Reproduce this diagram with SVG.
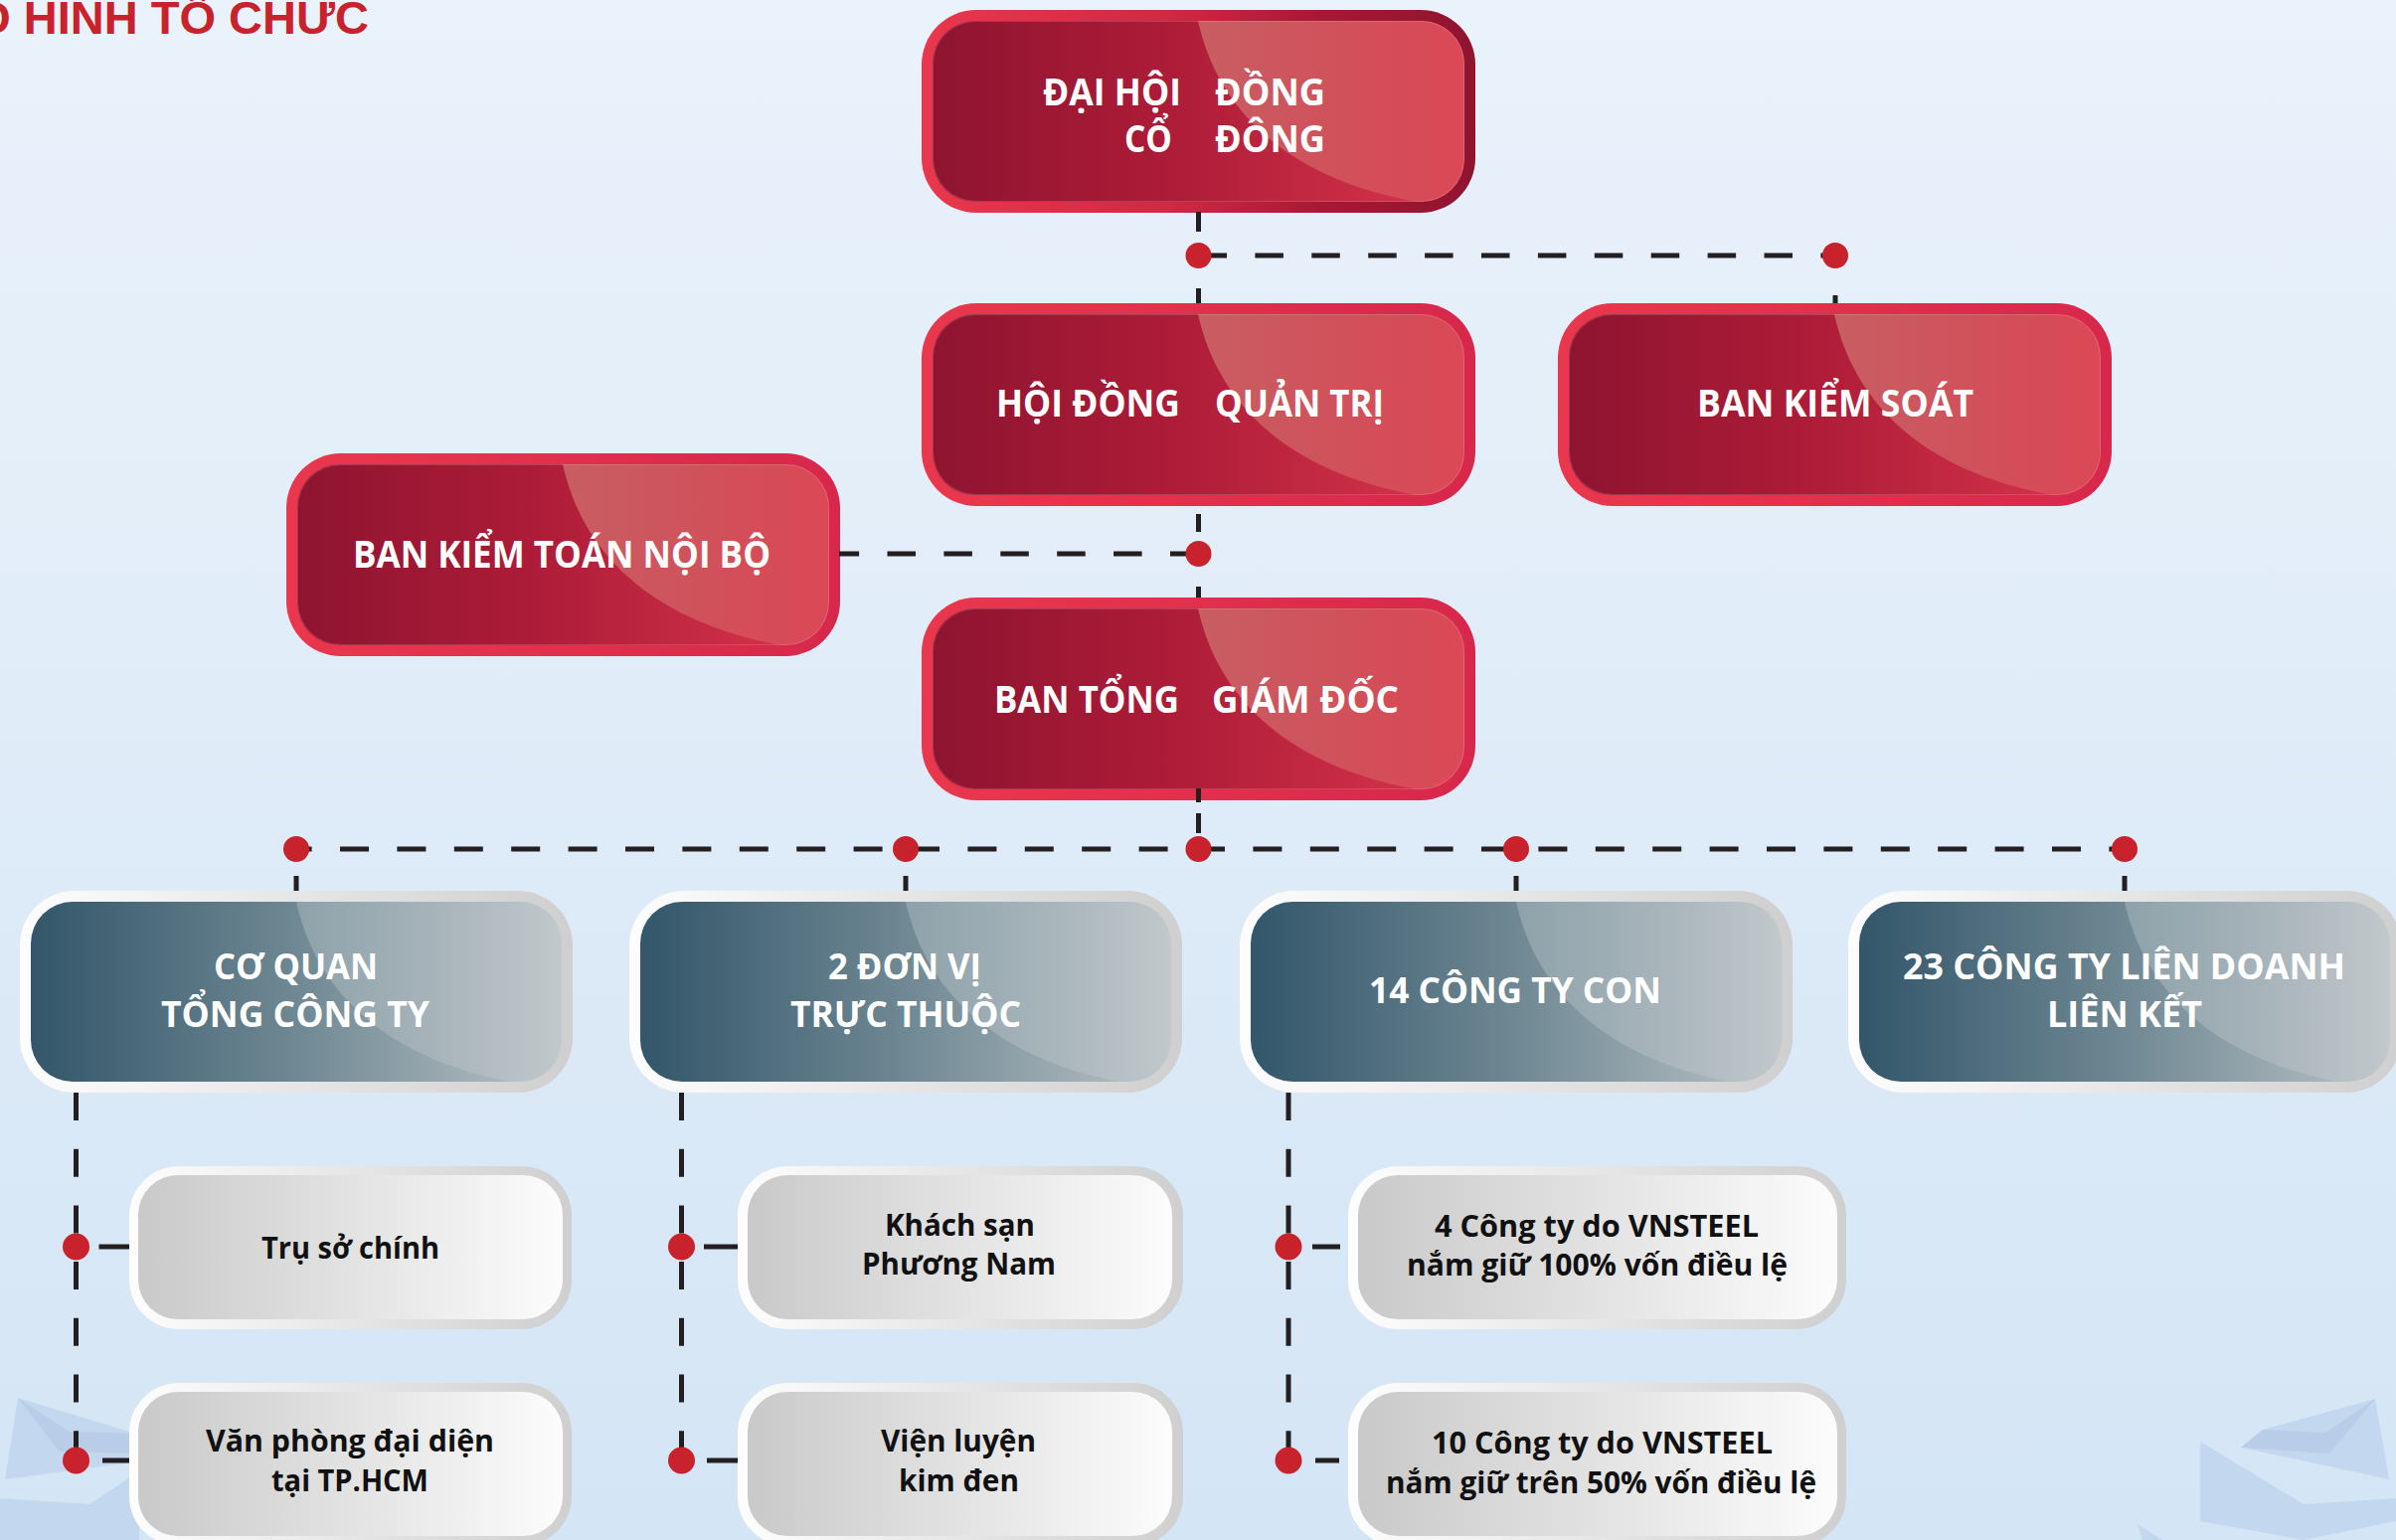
<svg xmlns="http://www.w3.org/2000/svg" xmlns:xlink="http://www.w3.org/1999/xlink" width="2410" height="1549" viewBox="0 0 2410 1549">
<defs>
<style>
.tw{font-family:"Open Sans","Liberation Sans",sans-serif;font-weight:700;fill:#ffffff;}
.tr{font-size:37px;}
.tt{font-size:35px;}
.tg{font-family:"Open Sans","Liberation Sans",sans-serif;font-weight:700;font-size:31px;fill:#111111;}
.con{stroke:#231f20;stroke-width:5;fill:none;}
.dash{stroke-dasharray:28.5 28.4;}
.dot{fill:#c8232c;}
.redFrame{fill:url(#redFrame);}
.silverFrame{fill:url(#silverFrame);}
.greyInner{fill:url(#greyInner);}
.deco{fill:#c3d8ee;}
.deco2{fill:#b9cde8;}
</style>
<linearGradient id="bg" x1="0" y1="0" x2="0" y2="1"><stop offset="0" stop-color="#eaf2fb"/><stop offset="1" stop-color="#d4e5f5"/></linearGradient>
<linearGradient id="redFrame" x1="0" y1="0" x2="1" y2="0"><stop offset="0" stop-color="#e9384d"/><stop offset="1" stop-color="#d7284c"/></linearGradient>
<linearGradient id="redFrameTop" x1="0" y1="0" x2="1" y2="0"><stop offset="0" stop-color="#e9384d"/><stop offset="0.45" stop-color="#cf2944"/><stop offset="0.72" stop-color="#a81834"/><stop offset="1" stop-color="#8f1430"/></linearGradient>
<linearGradient id="redInner" x1="0" y1="0" x2="1" y2="0"><stop offset="0" stop-color="#8e1430"/><stop offset="0.45" stop-color="#ad1c38"/><stop offset="1" stop-color="#d9364b"/></linearGradient>
<linearGradient id="redGloss" x1="0" y1="0" x2="1" y2="0"><stop offset="0" stop-color="#f4d6ae" stop-opacity="0.35"/><stop offset="1" stop-color="#f4d6ae" stop-opacity="0.1"/></linearGradient>
<linearGradient id="tealInner" x1="0" y1="0" x2="1" y2="0"><stop offset="0" stop-color="#33566a"/><stop offset="0.5" stop-color="#6f8893"/><stop offset="1" stop-color="#bcc3c7"/></linearGradient>
<linearGradient id="tealGloss" x1="0" y1="0" x2="1" y2="0"><stop offset="0" stop-color="#ffffff" stop-opacity="0.22"/><stop offset="1" stop-color="#ffffff" stop-opacity="0.08"/></linearGradient>
<linearGradient id="silverFrame" x1="0" y1="0" x2="1" y2="0"><stop offset="0" stop-color="#fdfdfd"/><stop offset="1" stop-color="#cfcfcf"/></linearGradient>
<linearGradient id="greyInner" x1="0" y1="0" x2="1" y2="0"><stop offset="0" stop-color="#c9c9c9"/><stop offset="1" stop-color="#fcfcfc"/></linearGradient>
<clipPath id="redClip"><rect x="11" y="11" width="535" height="182" rx="43"/></clipPath>
<clipPath id="tealClip"><rect x="11" y="11" width="534" height="181" rx="42"/></clipPath>
<g id="redCore">
<rect x="11" y="11" width="535" height="182" rx="43" fill="url(#redInner)"/>
<path d="M278,11 C300,110 380,175 510,195 L560,195 L560,0 L278,0 Z" fill="url(#redGloss)" clip-path="url(#redClip)"/>
<rect x="11.5" y="11.5" width="534" height="181" rx="43" fill="none" stroke="#ffffff" stroke-opacity="0.15" stroke-width="1"/>
</g>
<g id="tealBox">
<rect x="0" y="0" width="556" height="203" rx="55" class="silverFrame"/>
<rect x="11" y="11" width="534" height="181" rx="42" fill="url(#tealInner)"/>
<path d="M278,11 C300,110 380,175 510,195 L560,195 L560,0 L278,0 Z" fill="url(#tealGloss)" clip-path="url(#tealClip)"/>
</g>
</defs>

<rect x="0" y="0" width="2410" height="1549" fill="url(#bg)"/>

<g id="decor">
<polygon class="deco" points="18,1406 130,1440 140,1470 5,1488"/>
<polygon class="deco2" points="18,1406 70,1440 140,1442 140,1462 60,1460"/>
<polygon class="deco" points="0,1507 90,1513 140,1480 140,1549 0,1549"/>
<polygon class="deco" points="2276,1438 2389,1407 2403,1488 2254,1456"/>
<polygon class="deco2" points="2276,1438 2339,1441 2389,1407 2343,1462 2254,1456"/>
<polygon class="deco" points="2213,1450 2317,1513 2410,1507 2410,1530 2317,1549 2213,1530"/>
<polygon class="deco" points="2150,1533 2175,1549 2155,1549"/>
</g>

<g id="title">
<text x="-65" y="34" font-family="'Liberation Sans',Arial,sans-serif" font-weight="700" font-size="47" fill="#c8232c">MÔ HÌNH TỔ CHỨC</text>
</g>

<g id="n-dhdcd">
<rect x="927" y="10" width="557" height="204" rx="55" fill="url(#redFrameTop)"/>
<use xlink:href="#redCore" href="#redCore" x="927" y="10"/>
<text class="tw tr" x="1049" y="106" textLength="139" lengthAdjust="spacingAndGlyphs">ĐẠI HỘI</text>
<text class="tw tr" x="1222" y="106" textLength="111" lengthAdjust="spacingAndGlyphs">ĐỒNG</text>
<text class="tw tr" x="1131" y="153" textLength="48" lengthAdjust="spacingAndGlyphs">CỔ</text>
<text class="tw tr" x="1222" y="153" textLength="111" lengthAdjust="spacingAndGlyphs">ĐÔNG</text>
</g>

<g id="n-hdqt">
<rect x="927" y="305" width="557" height="204" rx="55" class="redFrame"/>
<use xlink:href="#redCore" href="#redCore" x="927" y="305"/>
<text class="tw tr" x="1002" y="419" textLength="185" lengthAdjust="spacingAndGlyphs">HỘI ĐỒNG</text>
<text class="tw tr" x="1222" y="419" textLength="170" lengthAdjust="spacingAndGlyphs">QUẢN TRỊ</text>
</g>

<g id="n-bks">
<rect x="1567" y="305" width="557" height="204" rx="55" class="redFrame"/>
<use xlink:href="#redCore" href="#redCore" x="1567" y="305"/>
<text class="tw tr" x="1707" y="419" textLength="278" lengthAdjust="spacingAndGlyphs">BAN KIỂM SOÁT</text>
</g>

<g id="n-bktnb">
<rect x="288" y="456" width="557" height="204" rx="55" class="redFrame"/>
<use xlink:href="#redCore" href="#redCore" x="288" y="456"/>
<text class="tw tr" x="355" y="571" textLength="420" lengthAdjust="spacingAndGlyphs">BAN KIỂM TOÁN NỘI BỘ</text>
</g>

<g id="n-btgd">
<rect x="927" y="601" width="557" height="204" rx="55" class="redFrame"/>
<use xlink:href="#redCore" href="#redCore" x="927" y="601"/>
<text class="tw tr" x="1000" y="717" textLength="186" lengthAdjust="spacingAndGlyphs">BAN TỔNG</text>
<text class="tw tr" x="1219" y="717" textLength="188" lengthAdjust="spacingAndGlyphs">GIÁM ĐỐC</text>
</g>

<g id="n-cqtct">
<use xlink:href="#tealBox" href="#tealBox" x="20" y="896"/>
<text class="tw tt" x="215" y="985" textLength="165" lengthAdjust="spacingAndGlyphs">CƠ QUAN</text>
<text class="tw tt" x="162" y="1033" textLength="270" lengthAdjust="spacingAndGlyphs">TỔNG CÔNG TY</text>
</g>

<g id="n-dvtt">
<use xlink:href="#tealBox" href="#tealBox" x="633" y="896"/>
<text class="tw tt" x="833" y="985" textLength="154" lengthAdjust="spacingAndGlyphs">2 ĐƠN VỊ</text>
<text class="tw tt" x="795" y="1033" textLength="232" lengthAdjust="spacingAndGlyphs">TRỰC THUỘC</text>
</g>

<g id="n-ctcon">
<use xlink:href="#tealBox" href="#tealBox" x="1247" y="896"/>
<text class="tw tt" x="1377" y="1009" textLength="294" lengthAdjust="spacingAndGlyphs">14 CÔNG TY CON</text>
</g>

<g id="n-ldlk">
<use xlink:href="#tealBox" href="#tealBox" x="1859" y="896"/>
<text class="tw tt" x="1914" y="985" textLength="445" lengthAdjust="spacingAndGlyphs">23 CÔNG TY LIÊN DOANH</text>
<text class="tw tt" x="2059" y="1033" textLength="156" lengthAdjust="spacingAndGlyphs">LIÊN KẾT</text>
</g>

<g id="n-trusochinh">
<rect x="130" y="1173" width="445" height="164" rx="50" class="silverFrame"/>
<rect x="139" y="1182" width="427" height="145" rx="40" class="greyInner"/>
<text class="tg" x="263" y="1266" textLength="179" lengthAdjust="spacingAndGlyphs">Trụ sở chính</text>
</g>

<g id="n-vanphong">
<rect x="130" y="1391" width="445" height="164" rx="50" class="silverFrame"/>
<rect x="139" y="1400" width="427" height="145" rx="40" class="greyInner"/>
<text class="tg" x="207" y="1460" textLength="290" lengthAdjust="spacingAndGlyphs">Văn phòng đại diện</text>
<text class="tg" x="273" y="1500" textLength="158" lengthAdjust="spacingAndGlyphs">tại TP.HCM</text>
</g>

<g id="n-khachsan">
<rect x="742" y="1173" width="448" height="164" rx="50" class="silverFrame"/>
<rect x="752" y="1182" width="427" height="145" rx="40" class="greyInner"/>
<text class="tg" x="890" y="1243" textLength="151" lengthAdjust="spacingAndGlyphs">Khách sạn</text>
<text class="tg" x="867" y="1282" textLength="195" lengthAdjust="spacingAndGlyphs">Phương Nam</text>
</g>

<g id="n-vienluyen">
<rect x="742" y="1391" width="448" height="164" rx="50" class="silverFrame"/>
<rect x="752" y="1400" width="427" height="145" rx="40" class="greyInner"/>
<text class="tg" x="886" y="1460" textLength="156" lengthAdjust="spacingAndGlyphs">Viện luyện</text>
<text class="tg" x="904" y="1500" textLength="121" lengthAdjust="spacingAndGlyphs">kim đen</text>
</g>

<g id="n-4cty">
<rect x="1356" y="1173" width="501" height="164" rx="50" class="silverFrame"/>
<rect x="1366" y="1182" width="482" height="145" rx="40" class="greyInner"/>
<text class="tg" x="1443" y="1244" textLength="326" lengthAdjust="spacingAndGlyphs">4 Công ty do VNSTEEL</text>
<text class="tg" x="1415" y="1283" textLength="383" lengthAdjust="spacingAndGlyphs">nắm giữ 100% vốn điều lệ</text>
</g>

<g id="n-10cty">
<rect x="1356" y="1391" width="501" height="164" rx="50" class="silverFrame"/>
<rect x="1366" y="1400" width="482" height="145" rx="40" class="greyInner"/>
<text class="tg" x="1440" y="1462" textLength="343" lengthAdjust="spacingAndGlyphs">10 Công ty do VNSTEEL</text>
<text class="tg" x="1394" y="1502" textLength="433" lengthAdjust="spacingAndGlyphs">nắm giữ trên 50% vốn điều lệ</text>
</g>

<g id="connectors">
<path class="con" d="M1205.5,213 V233"/>
<path class="con" d="M1205.5,290 V305"/>
<path class="con dash" d="M1205.5,257 H1846"/>
<path class="con" d="M1846,297 V305"/>
<path class="con" d="M1205.5,517 V535"/>
<path class="con" d="M1205.5,590 V601"/>
<path class="con dash" d="M1205.5,557 H844"/>
<path class="con" d="M1205.5,793 V807"/>
<path class="con" d="M1205.5,818 V838"/>
<path class="con" d="M298,854 H2137" style="stroke-dasharray:29 28.4;stroke-dashoffset:13.4"/>
<path class="con" d="M298,881 V896 M911,881 V896 M1525,881 V896 M2137,881 V896"/>
<path class="con" d="M76.5,1099 V1469 M685.5,1099 V1469 M1296,1099 V1469" style="stroke-dasharray:28 28.7"/>
<path class="con" d="M99.5,1254 H130 M103,1469 H130 M708,1254 H742 M711,1469 H742 M1320,1254 H1348 M1323,1469 H1347"/>
<circle class="dot" cx="1205.5" cy="257" r="13"/>
<circle class="dot" cx="1846" cy="257" r="13"/>
<circle class="dot" cx="1205.5" cy="557" r="13"/>
<circle class="dot" cx="298" cy="854" r="13"/>
<circle class="dot" cx="911" cy="854" r="13"/>
<circle class="dot" cx="1205.5" cy="854" r="13"/>
<circle class="dot" cx="1525" cy="854" r="13"/>
<circle class="dot" cx="2137" cy="854" r="13"/>
<circle class="dot" cx="76.5" cy="1254" r="13.5"/>
<circle class="dot" cx="76.5" cy="1469" r="13.5"/>
<circle class="dot" cx="685.5" cy="1254" r="13.5"/>
<circle class="dot" cx="685.5" cy="1469" r="13.5"/>
<circle class="dot" cx="1296" cy="1254" r="13.5"/>
<circle class="dot" cx="1296" cy="1469" r="13.5"/>
</g>
</svg>
